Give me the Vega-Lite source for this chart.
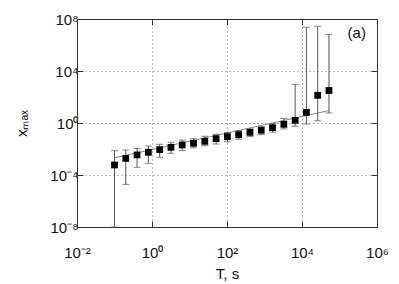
{
  "$schema": "https://vega.github.io/schema/vega-lite/v6.json",
  "width": 300,
  "height": 208,
  "autosize": {"type": "none"},
  "padding": {"left": 77, "top": 19, "right": 22, "bottom": 57},
  "background": "white",
  "config": {
    "view": {"stroke": null},
    "font": "Liberation Sans",
    "axis": {
      "labelFont": "Liberation Sans",
      "titleFont": "Liberation Sans",
      "labelFontSize": 15,
      "titleFontSize": 15,
      "titleFontWeight": "normal",
      "labelColor": "#111",
      "titleColor": "#111",
      "domainColor": "#333",
      "tickColor": "#333",
      "gridColor": "#777",
      "gridDash": [1, 3],
      "gridWidth": 1,
      "tickSize": -6
    }
  },
  "datasets": {
    "pts": [
      {"T": 0.1, "y": 0.00059, "lo": 1e-8, "hi": 0.0074},
      {"T": 0.2, "y": 0.0019, "lo": 0.000019, "hi": 0.0083},
      {"T": 0.4, "y": 0.0035, "lo": 0.00039, "hi": 0.011},
      {"T": 0.8, "y": 0.0056, "lo": 0.00079, "hi": 0.017},
      {"T": 1.6, "y": 0.0089, "lo": 0.0023, "hi": 0.023},
      {"T": 3.2, "y": 0.0135, "lo": 0.0047, "hi": 0.033},
      {"T": 6.4, "y": 0.0204, "lo": 0.0074, "hi": 0.048},
      {"T": 12.8, "y": 0.0275, "lo": 0.0123, "hi": 0.062},
      {"T": 25.6, "y": 0.039, "lo": 0.0178, "hi": 0.095},
      {"T": 51.2, "y": 0.062, "lo": 0.024, "hi": 0.135},
      {"T": 102.4, "y": 0.089, "lo": 0.035, "hi": 0.186},
      {"T": 204.8, "y": 0.126, "lo": 0.056, "hi": 0.257},
      {"T": 409.6, "y": 0.19, "lo": 0.089, "hi": 0.363},
      {"T": 819.2, "y": 0.275, "lo": 0.126, "hi": 0.525},
      {"T": 1638, "y": 0.437, "lo": 0.2, "hi": 0.9},
      {"T": 3277, "y": 0.794, "lo": 0.35, "hi": 2.2},
      {"T": 6554, "y": 1.62, "lo": 0.56, "hi": 955},
      {"T": 13107, "y": 6.6, "lo": 0.83, "hi": 23000000},
      {"T": 26214, "y": 135, "lo": 1.5, "hi": 27500000},
      {"T": 52429, "y": 316, "lo": 5.9, "hi": 6600000}
    ],
    "fit": [
      {"T": 0.1, "y": 0.0021},
      {"T": 52429, "y": 9.1}
    ],
    "lab": [
      {"T": 288000, "y": 9100000, "text": "(a)"}
    ]
  },
  "resolve": {"axis": {"x": "independent", "y": "independent"}},
  "layer": [
    {
      "data": {"name": "fit"},
      "mark": {"type": "line", "color": "#888", "strokeWidth": 1},
      "encoding": {
        "x": {
          "field": "T", "type": "quantitative",
          "scale": {"type": "log", "domain": [0.01, 1000000], "nice": false},
          "axis": {
            "orient": "bottom", "title": "T, s", "grid": true,
            "values": [0.01, 1, 100, 10000, 1000000],
            "labelExpr": "'10' + replace(replace(replace(replace(replace(replace(replace(''+round(log(datum.value)/LN10),'-','⁻'),'0','⁰'),'2','²'),'4','⁴'),'6','⁶'),'8','⁸'),'1','¹')",
            "labelPadding": 24,
            "labelFlush": false,
            "titleBaseline": "alphabetic",
            "titleY": 51
          }
        },
        "y": {
          "field": "y", "type": "quantitative",
          "scale": {"type": "log", "domain": [1e-8, 100000000], "nice": false},
          "axis": {
            "orient": "left", "title": "xₘₐₓ", "grid": true,
            "values": [1e-8, 0.0001, 1, 10000, 100000000],
            "labelExpr": "'10' + replace(replace(replace(replace(replace(replace(replace(''+round(log(datum.value)/LN10),'-','⁻'),'0','⁰'),'2','²'),'4','⁴'),'6','⁶'),'8','⁸'),'1','¹')",
            "labelPadding": 5,
            "labelFlush": false,
            "titleX": -48,
            "titleY": 104
          }
        }
      }
    },
    {
      "data": {"name": "pts"},
      "mark": {"type": "rule", "color": "#555", "strokeWidth": 1},
      "encoding": {
        "x": {
          "field": "T", "type": "quantitative",
          "axis": {"orient": "top", "title": null, "labels": false, "grid": false, "values": [0.01, 1, 100, 10000, 1000000]}
        },
        "y": {
          "field": "lo", "type": "quantitative",
          "axis": {"orient": "right", "title": null, "labels": false, "grid": false, "values": [1e-8, 0.0001, 1, 10000, 100000000]}
        },
        "y2": {"field": "hi"}
      }
    },
    {
      "data": {"name": "pts"},
      "mark": {"type": "tick", "orient": "horizontal", "color": "#555", "size": 7, "thickness": 1},
      "encoding": {
        "x": {"field": "T", "type": "quantitative", "axis": null},
        "y": {"field": "hi", "type": "quantitative", "axis": null}
      }
    },
    {
      "data": {"name": "pts"},
      "mark": {"type": "tick", "orient": "horizontal", "color": "#555", "size": 7, "thickness": 1},
      "encoding": {
        "x": {"field": "T", "type": "quantitative", "axis": null},
        "y": {"field": "lo", "type": "quantitative", "axis": null}
      }
    },
    {
      "data": {"name": "pts"},
      "mark": {"type": "point", "shape": "square", "filled": true, "color": "#000", "size": 46, "opacity": 1},
      "encoding": {
        "x": {"field": "T", "type": "quantitative", "axis": null},
        "y": {"field": "y", "type": "quantitative", "axis": null}
      }
    },
    {
      "data": {"name": "lab"},
      "mark": {"type": "text", "fontSize": 15, "font": "Liberation Sans", "color": "#111", "align": "center", "baseline": "middle"},
      "encoding": {
        "x": {"field": "T", "type": "quantitative", "axis": null},
        "y": {"field": "y", "type": "quantitative", "axis": null},
        "text": {"field": "text"}
      }
    }
  ]
}
